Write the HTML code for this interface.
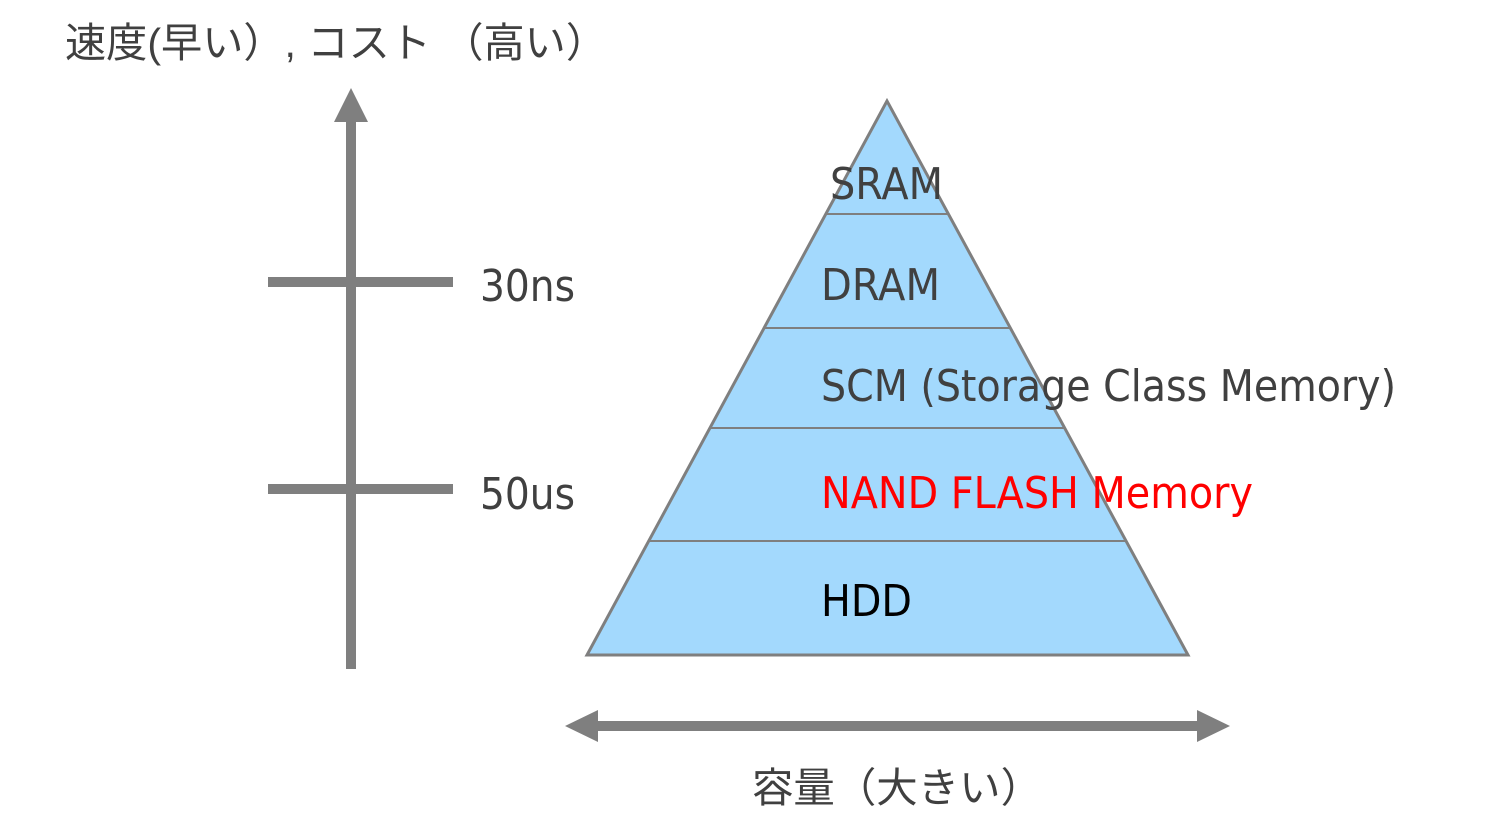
<!DOCTYPE html>
<html><head><meta charset="utf-8"><style>html,body{margin:0;padding:0;background:#fff}svg{display:block}</style></head>
<body>
<svg width="1488" height="816" viewBox="0 0 1488 816" xmlns="http://www.w3.org/2000/svg" font-family="'DejaVu Sans','Liberation Sans','Noto Sans CJK JP',sans-serif">
<text x="65" y="57" font-size="41" fill="#404040" font-family="'Liberation Sans','Noto Sans CJK JP',sans-serif" textLength="542" lengthAdjust="spacingAndGlyphs">速度(早い）, コスト （高い）</text>
<line x1="351" y1="118" x2="351" y2="669" stroke="#7f7f7f" stroke-width="10"/>
<polygon points="351,88 334,122 368,122" fill="#7f7f7f"/>
<line x1="268" y1="282" x2="453" y2="282" stroke="#7f7f7f" stroke-width="10"/>
<line x1="268" y1="489" x2="453" y2="489" stroke="#7f7f7f" stroke-width="10"/>
<text x="480" y="301" font-size="44" fill="#404040" textLength="95" lengthAdjust="spacingAndGlyphs">30ns</text>
<text x="480" y="509" font-size="44" fill="#404040" textLength="95" lengthAdjust="spacingAndGlyphs">50us</text>
<polygon points="887,101 587,655 1188,655" fill="#a3d9fd" stroke="#7f7f7f" stroke-width="3"/>
<g stroke="#7f7f7f" stroke-width="2">
<line x1="825" y1="214" x2="949" y2="214"/>
<line x1="764" y1="328" x2="1011" y2="328"/>
<line x1="710" y1="428" x2="1065" y2="428"/>
<line x1="649" y1="541" x2="1126" y2="541"/>
</g>
<text x="830" y="199" font-size="44" fill="#404040" textLength="113" lengthAdjust="spacingAndGlyphs">SRAM</text>
<text x="821" y="300" font-size="44" fill="#404040" textLength="119" lengthAdjust="spacingAndGlyphs">DRAM</text>
<text x="821" y="401" font-size="44" fill="#404040" textLength="575" lengthAdjust="spacingAndGlyphs">SCM (Storage Class Memory)</text>
<text x="821" y="508" font-size="44" fill="#ff0000" textLength="432" lengthAdjust="spacingAndGlyphs">NAND FLASH Memory</text>
<text x="821" y="616" font-size="44" fill="#000" textLength="91" lengthAdjust="spacingAndGlyphs">HDD</text>
<line x1="595" y1="726" x2="1200" y2="726" stroke="#7f7f7f" stroke-width="10"/>
<polygon points="565,726 598,710 598,742" fill="#7f7f7f"/>
<polygon points="1230,726 1197,710 1197,742" fill="#7f7f7f"/>
<text x="752" y="802" font-size="41" fill="#404040" font-family="'Liberation Sans','Noto Sans CJK JP',sans-serif" textLength="290" lengthAdjust="spacingAndGlyphs">容量（大きい）</text>
</svg>
</body></html>
